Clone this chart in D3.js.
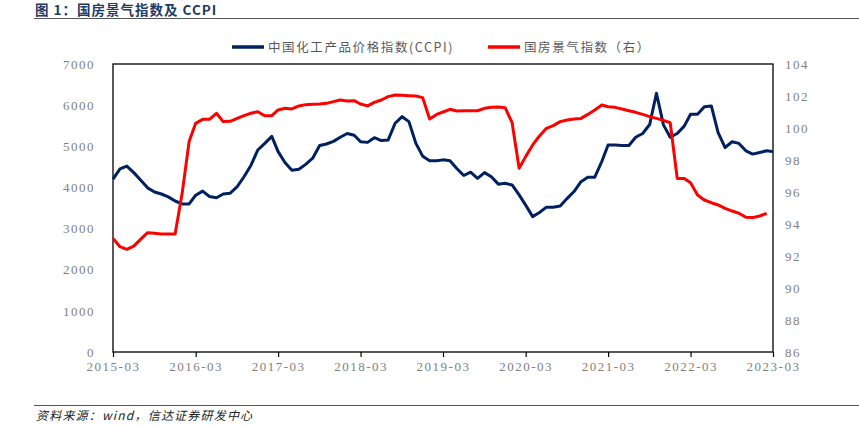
<!DOCTYPE html>
<html>
<head>
<meta charset="utf-8">
<script src="https://cdn.jsdelivr.net/npm/d3@7"></script>
<style>
  body { margin: 0; background: #fff; }
  svg { display: block; }
</style>
</head>
<body>
<div id="chart"></div>
<script>
let width = 859;
let height = 426;

// monthly, 2015-03 .. 2023-03
let startMonth = "2015-03";
let ccpi = [4200, 4450, 4520, 4360, 4180, 3990, 3890, 3840, 3770, 3670, 3600, 3600,
    3810, 3910, 3780, 3750, 3840, 3860, 4020, 4260, 4540, 4910, 5070, 5240,
    4870, 4600, 4420, 4440, 4560, 4710, 5020, 5055, 5120, 5220, 5310, 5270,
    5110, 5095, 5210, 5140, 5150, 5560, 5720, 5600, 5070, 4760, 4650, 4650,
    4670, 4650, 4460, 4290, 4370, 4220, 4360, 4260, 4080, 4100, 4060, 3820,
    3570, 3290, 3390, 3520, 3520, 3550, 3735, 3900, 4140, 4250, 4250, 4630,
    5030, 5030, 5020, 5020, 5220, 5310, 5530, 6290, 5520, 5220, 5310, 5490,
    5780, 5780, 5960, 5980, 5330, 4970, 5110, 5070, 4890, 4810, 4850, 4890, 4870];
let housing = [93.1, 92.58, 92.42, 92.62, 93.04, 93.46, 93.42, 93.38, 93.38, 93.38, 95.9, 99.15,
    100.29, 100.54, 100.54, 100.92, 100.4, 100.42, 100.6, 100.77, 100.92, 101.02, 100.77, 100.77,
    101.13, 101.23, 101.19, 101.38, 101.46, 101.48, 101.5, 101.54, 101.65, 101.75, 101.69, 101.71,
    101.5, 101.38, 101.6, 101.75, 101.96, 102.06, 102.04, 102.02, 102.0, 101.9, 100.56, 100.85,
    101.0, 101.17, 101.06, 101.08, 101.08, 101.08, 101.23, 101.29, 101.31, 101.27, 100.33, 97.48,
    98.21, 98.94, 99.5, 99.98, 100.15, 100.4, 100.5, 100.56, 100.6, 100.85, 101.13, 101.44,
    101.33, 101.29, 101.19, 101.08, 100.98, 100.85, 100.71, 100.6, 100.48, 100.33, 96.85, 96.85,
    96.58, 95.81, 95.5, 95.33, 95.19, 94.98, 94.81, 94.67, 94.42, 94.4, 94.5, 94.67];
let xTicks = ["2015-03", "2016-03", "2017-03", "2018-03", "2019-03", "2020-03", "2021-03", "2022-03", "2023-03"];
let leftTicks = [0, 1000, 2000, 3000, 4000, 5000, 6000, 7000];
let rightTicks = [86, 88, 90, 92, 94, 96, 98, 100, 102, 104];
let seriesNames = ["中国化工产品价格指数(CCPI)", "国房景气指数（右）"];
let seriesColors = ["#002060", "#ff0000"];

let parseMonth = d3.timeParse("%Y-%m");
let t0 = parseMonth(startMonth);
let months = ccpi.map((d, i) => d3.timeMonth.offset(t0, i));

let plot = { left: 113, right: 773, top: 64, bottom: 352 };

let svg = d3.select("#chart")
    .append("svg")
    .attr("width", width)
    .attr("height", height);

let x = d3.scaleTime()
    .domain([parseMonth(xTicks[0]), parseMonth(xTicks[xTicks.length - 1])])
    .range([plot.left, plot.right]);
let yL = d3.scaleLinear().domain([0, 7000]).range([plot.bottom, plot.top]);
let yR = d3.scaleLinear().domain([86, 104]).range([plot.bottom, plot.top]);

let numFont = "'Liberation Serif', 'Times New Roman', serif";
let cjkFont = "'Noto Sans CJK SC', sans-serif";

// title and rules
svg.append("text")
    .attr("x", 35).attr("y", 15)
    .attr("font-family", cjkFont)
    .attr("font-weight", "bold")
    .attr("font-size", 13.5)
    .attr("letter-spacing", 1)
    .attr("fill", "#1f3a64")
    .text("图 1：国房景气指数及 CCPI");
svg.append("line")
    .attr("x1", 34).attr("x2", 859).attr("y1", 18.5).attr("y2", 18.5)
    .attr("stroke", "#555").attr("stroke-width", 1);
svg.append("line")
    .attr("x1", 34).attr("x2", 859).attr("y1", 405.5).attr("y2", 405.5)
    .attr("stroke", "#555").attr("stroke-width", 1);
svg.append("text")
    .attr("x", 36).attr("y", 420)
    .attr("font-family", cjkFont)
    .attr("font-style", "italic")
    .attr("font-size", 12)
    .attr("letter-spacing", 1.2)
    .attr("fill", "#222")
    .text("资料来源：wind，信达证券研发中心");

// axes
let xAxis = d3.axisBottom(x)
    .tickValues(xTicks.map(parseMonth))
    .tickFormat(d3.timeFormat("%Y-%m"))
    .tickSize(5).tickPadding(5);
let gx = svg.append("g")
    .attr("transform", `translate(0,${plot.bottom})`)
    .call(xAxis);

let gl = svg.append("g")
    .attr("transform", `translate(${plot.left},0)`)
    .call(d3.axisLeft(yL).tickValues(leftTicks).tickFormat(d3.format("d")).tickSize(0).tickPadding(18));

let gr = svg.append("g")
    .attr("transform", `translate(${plot.right},0)`)
    .call(d3.axisRight(yR).tickValues(rightTicks).tickSize(0).tickPadding(12));

[gx, gl, gr].forEach(g => {
    g.select(".domain").remove();
    g.selectAll("line").attr("stroke", "#000").attr("stroke-width", 1.2);
    g.selectAll("text")
        .attr("font-family", numFont)
        .attr("font-size", 13)
        .attr("letter-spacing", 1.5)
        .attr("fill", "#7f7f7f");
});

// plot frame
svg.append("rect")
    .attr("x", plot.left).attr("y", plot.top)
    .attr("width", plot.right - plot.left)
    .attr("height", plot.bottom - plot.top)
    .attr("fill", "none")
    .attr("stroke", "#000")
    .attr("stroke-width", 1.3);

// lines
let lineL = d3.line().x((d, i) => x(months[i])).y(d => yL(d));
let lineR = d3.line().x((d, i) => x(months[i])).y(d => yR(d));

svg.append("path")
    .datum(ccpi)
    .attr("d", lineL)
    .attr("fill", "none")
    .attr("stroke", seriesColors[0])
    .attr("stroke-width", 3)
    .attr("stroke-linejoin", "round");

svg.append("path")
    .datum(housing)
    .attr("d", lineR)
    .attr("fill", "none")
    .attr("stroke", seriesColors[1])
    .attr("stroke-width", 3)
    .attr("stroke-linejoin", "round");

// legend
let legendPos = [232, 488];
seriesNames.forEach((name, i) => {
    let g = svg.append("g").attr("transform", `translate(${legendPos[i]},47)`);
    g.append("line")
        .attr("x1", 0).attr("x2", 32)
        .attr("stroke", seriesColors[i])
        .attr("stroke-width", 3.5);
    g.append("text")
        .attr("x", 36).attr("y", 4.5)
        .attr("font-family", cjkFont)
        .attr("font-size", 12.5)
        .attr("letter-spacing", 1.6)
        .attr("fill", "#595959")
        .text(name);
});
</script>
</body>
</html>
